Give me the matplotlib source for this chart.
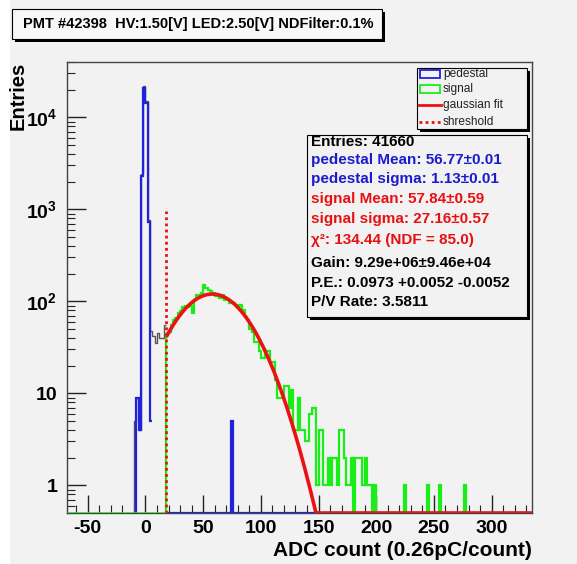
import numpy as np
from matplotlib import pyplot as plt
from matplotlib.patches import Rectangle
from matplotlib.lines import Line2D

plt.rcParams['font.family'] = ['Liberation Sans', 'DejaVu Sans']
plt.rcParams['mathtext.fontset'] = 'custom'
plt.rcParams['mathtext.bf'] = 'Liberation Sans:bold'
plt.rcParams['mathtext.rm'] = 'Liberation Sans:bold'
plt.rcParams['mathtext.default'] = 'bf'
plt.rcParams['axes.unicode_minus'] = False

W, H = 577, 564
YMIN, YMAX = 0.5, 4e4
XMIN, XMAX = -68, 335

title = "PMT #42398  HV:1.50[V] LED:2.50[V] NDFilter:0.1%"

# pedestal histogram (blue), 2-count bins
ped_edges = np.arange(-10, 8, 2)
ped_vals = [0, 9, 4, 2300, 21000, 14500, 720, 5]
# pedestal zero bins drawn right of threshold + lone bin
ped_tail_edges = np.arange(18, 150, 2)
ped_tail_vals = np.zeros(len(ped_tail_edges) - 1)
ped_tail_vals[(74 - 18) // 2] = 5

# total histogram (gray) seen between pedestal and signal
tot_edges = np.arange(-12, 20, 2)
tot_vals = [0, 5, 9, 4, 2400, 22000, 15000, 760, 48, 42, 35, 45, 40, 40, 55]

# signal histogram (green), starts at threshold
sig_start = 18
sig_vals = [45, 46, 55, 62, 66, 74, 78, 87, 88, 86,
            90, 74, 104, 116, 112, 122, 150, 138, 132, 128,
            122, 115, 118, 110, 116, 103, 105, 96, 98, 96,
            91, 90, 92, 80, 67, 62, 50, 47, 36, 36,
            29, 24, 24, 29, 29, 22, 22, 14, 9, 9,
            9, 12, 12, 7, 11, 4, 4, 9, 4, 4,
            3, 3, 6, 7, 7, 1, 4, 4, 1, 1,
            2, 1, 2, 2, 1, 4, 4, 2, 1, 1,
            2, 0, 2, 2, 2, 1, 2, 1, 1, 0,
            1, 0, 0, 0, 0, 0, 0, 0, 0, 0,
            0, 0, 0, 1, 0, 0, 0, 0, 0, 0,
            0, 0, 0, 1, 0, 0, 0, 0, 1, 0,
            0, 0, 0, 0, 0, 0, 0, 0, 0, 1, 0]
sig_edges = sig_start + 2 * np.arange(len(sig_vals) + 1)
# green zero line left of threshold
sig_left_edges = np.array([XMIN, sig_start])
sig_left_vals = [0]

# gaussian fit parameters (from stats box)
fit_amp, fit_mean, fit_sigma = 120.0, 57.84, 27.16
threshold = 18
threshold_top = 950

stats = [("Entries: 41660", 'black'),
         ("pedestal Mean: 56.77\u00b10.01", '#1c1ccc'),
         ("pedestal sigma: 1.13\u00b10.01", '#1c1ccc'),
         ("signal Mean: 57.84\u00b10.59", '#e81010'),
         ("signal sigma: 27.16\u00b10.57", '#e81010'),
         ("\u03c7\u00b2: 134.44 (NDF = 85.0)", '#e81010'),
         ("Gain: 9.29e+06\u00b19.46e+04", 'black'),
         ("P.E.: 0.0973 +0.0052 -0.0052", 'black'),
         ("P/V Rate: 3.5811", 'black')]
stats_y = [142, 160, 179, 199, 219, 240, 263, 283, 302]

BG = '#f2f2f2'
BLUE = '#2222dd'
GREEN = '#19ee19'
RED = '#ee1111'


def fx(x):
    return x / W


def fy(y):
    return 1 - y / H


def box(fig, x0, y0, x1, y1, face, shadow=3):
    # shadowed box in pixel coords (y from top)
    if shadow:
        fig.patches.append(Rectangle((fx(x0 + shadow), fy(y1 + shadow)), fx(x1 - x0), (y1 - y0) / H,
                                     transform=fig.transFigure, facecolor='black', edgecolor='none', zorder=5))
    fig.patches.append(Rectangle((fx(x0), fy(y1)), fx(x1 - x0), (y1 - y0) / H,
                                 transform=fig.transFigure, facecolor=face, edgecolor='black', lw=0.8, zorder=6))


def clip(v):
    return np.maximum(np.asarray(v, dtype=float), YMIN)


fig = plt.figure(figsize=(W / 100, H / 100), dpi=100)
fig.patch.set_facecolor('white')
fig.patches.append(Rectangle((fx(10), 0), fx(W - 10), 1, transform=fig.transFigure,
                             facecolor=BG, edgecolor='none', zorder=-10))

ax = fig.add_axes([fx(67), fy(513), fx(532 - 67), (513 - 62) / H])
ax.set_facecolor(BG)
ax.set_yscale('log')
ax.set_xlim(XMIN, XMAX)
ax.set_ylim(YMIN, YMAX)

ax.stairs(clip(tot_vals), tot_edges, color='#555555', lw=1, baseline=None, zorder=2)
ax.stairs(clip(ped_vals), ped_edges, color=BLUE, lw=1.6, baseline=None, zorder=3)
ax.stairs(clip(ped_tail_vals), ped_tail_edges, color=BLUE, lw=1.6, baseline=None, zorder=3)
ax.stairs(clip(sig_left_vals), sig_left_edges, color=GREEN, lw=1.8, baseline=None, zorder=4)
ax.stairs(clip(sig_vals), sig_edges, color=GREEN, lw=1.6, baseline=None, zorder=4)
ax.vlines(sig_start, YMIN, sig_vals[0], color=GREEN, lw=1.6, zorder=4)

xf = np.linspace(threshold, XMAX, 600)
yf = fit_amp * np.exp(-0.5 * ((xf - fit_mean) / fit_sigma) ** 2)
ax.plot(xf, clip(yf), color=RED, lw=2.6, zorder=6, solid_capstyle='butt')
ax.vlines(threshold, YMIN, threshold_top, color=RED, lw=2, linestyles=(0, (1, 1.2)), zorder=7)

ax.set_xticks(np.arange(-50, 301, 50))
ax.set_xticks(np.arange(-60, 331, 10), minor=True)
ax.set_yticks([1, 10, 100, 1000, 10000])
ax.set_yticklabels(['1', '10', '$10^{2}$', '$10^{3}$', '$10^{4}$'])
ax.tick_params(which='both', direction='in', top=False, right=False, colors='#222222')
ax.tick_params(which='major', length=13, width=1, labelsize=14, pad=5)
ax.tick_params(axis='y', which='major', length=14, pad=7)
ax.tick_params(which='minor', length=6, width=0.8)
for lab in ax.get_xticklabels() + ax.get_yticklabels():
    lab.set_fontweight('bold')
    lab.set_color('black')
for s in ax.spines.values():
    s.set_color('#444444')
    s.set_linewidth(1)

fig.text(fx(18), fy(62), 'Entries', rotation=90, ha='center', va='top', fontsize=14.5, fontweight='bold')
fig.text(fx(532), fy(550), 'ADC count (0.26pC/count)', ha='right', va='center', fontsize=15, fontweight='bold')

# title box
box(fig, 12, 9, 382, 39, '#f8f8f8')
fig.text(fx(23), fy(24), title, ha='left', va='center', fontsize=10.5, fontweight='bold', zorder=7)

# legend box
box(fig, 417, 68, 527, 129, BG)
leg_y = [74, 89, 105, 122]
for i, (lab, col) in enumerate([('pedestal', BLUE), ('signal', GREEN)]):
    fig.patches.append(Rectangle((fx(420), fy(leg_y[i] + 3.5)), fx(20), 7 / H, transform=fig.transFigure,
                                 facecolor='none', edgecolor=col, lw=1.3, zorder=7))
fig.lines.append(Line2D([fx(419), fx(441)], [fy(leg_y[2])] * 2, transform=fig.transFigure,
                        color=RED, lw=2, zorder=7))
fig.lines.append(Line2D([fx(419), fx(441)], [fy(leg_y[3])] * 2, transform=fig.transFigure,
                        color=RED, lw=2, ls=(0, (1, 1.2)), zorder=7))
for y, lab in zip(leg_y, ['pedestal', 'signal', 'gaussian fit', 'shreshold']):
    fig.text(fx(443), fy(y), lab, ha='left', va='center', fontsize=8.6, color='#222222', zorder=8)

# stats box
box(fig, 307, 135, 527, 317, BG)
for (txt, col), y in zip(stats, stats_y):
    fig.text(fx(311), fy(y), txt, ha='left', va='center', fontsize=11, fontweight='bold', color=col, zorder=8)

fig.savefig('out.png', dpi=100, facecolor=fig.get_facecolor())
